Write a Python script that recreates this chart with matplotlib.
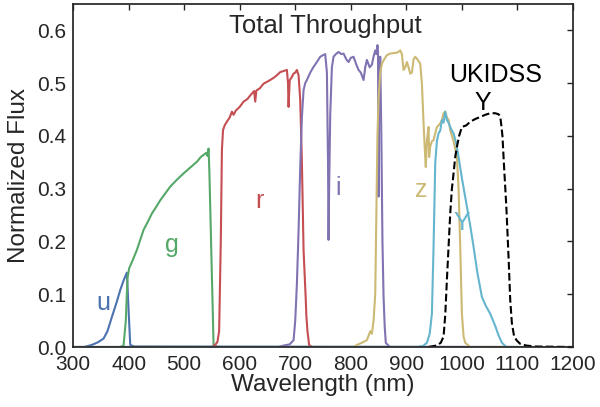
import matplotlib
matplotlib.use("Agg")
import matplotlib.pyplot as plt

plt.rcParams['font.family'] = ['Liberation Sans', 'DejaVu Sans']

# ---- data (wavelength in nm, normalized throughput) ----
u_wl = [300, 320, 334, 345, 355, 362, 370, 378, 385, 391, 397, 400, 403, 410, 1100]
u_tp = [0, 0, 0.004, 0.009, 0.016, 0.03, 0.057, 0.083, 0.108, 0.126, 0.141, 0.07, 0.004, 0.001, 0.0]

g_wl = [300, 385, 391, 395, 398, 401, 408, 415, 421, 427, 435, 442, 450, 457, 466, 475,
        487, 499, 511, 523, 530, 535, 540, 542, 544, 545.5, 553, 560, 1100]
g_tp = [0, 0, 0.003, 0.05, 0.13, 0.149, 0.166, 0.184, 0.203, 0.222, 0.238, 0.253, 0.266, 0.278,
        0.291, 0.304, 0.317, 0.329, 0.34, 0.351, 0.36, 0.364, 0.368, 0.362, 0.376, 0.33, 0.004, 0.0, 0]

r_wl = [300, 550, 556, 560, 563, 566, 568, 570, 573, 577, 582, 586, 589, 593, 600, 607, 614,
        620, 626, 628, 630, 636, 643, 650, 655, 661, 667, 673, 679, 685, 687, 688, 690, 694,
        697, 700, 703, 706, 709, 712, 715, 719, 720, 722, 725, 730, 1100]
r_tp = [0, 0, 0.004, 0.01, 0.03, 0.2, 0.373, 0.411, 0.42, 0.427, 0.435, 0.446, 0.44, 0.448,
        0.455, 0.465, 0.47, 0.478, 0.485, 0.465, 0.486, 0.49, 0.499, 0.503, 0.506, 0.51, 0.515,
        0.521, 0.523, 0.525, 0.5, 0.455, 0.505, 0.512, 0.518, 0.52, 0.525, 0.515, 0.468, 0.35,
        0.184, 0.089, 0.06, 0.03, 0.004, 0.0, 0]

i_wl = [300, 670, 680, 690, 697, 700, 703, 706, 709, 712, 715, 718, 721, 727, 733, 739, 745,
        750, 754, 757, 759, 760, 761, 763, 766, 769, 773, 778, 783, 787, 792, 796, 800, 805,
        810, 814, 818, 823, 826, 829, 834, 838, 841, 844, 846, 848, 849, 850, 851, 853, 855,
        857, 859, 861, 863, 870, 1100]
i_tp = [0, 0, 0.003, 0.005, 0.013, 0.05, 0.12, 0.22, 0.341, 0.436, 0.487, 0.5, 0.506, 0.52,
        0.531, 0.54, 0.55, 0.553, 0.555, 0.52, 0.35, 0.203, 0.3, 0.44, 0.53, 0.55, 0.555,
        0.559, 0.555, 0.556, 0.545, 0.54, 0.548, 0.55, 0.535, 0.525, 0.52, 0.506, 0.53, 0.544,
        0.53, 0.535, 0.55, 0.562, 0.555, 0.572, 0.56, 0.285, 0.5, 0.55, 0.4, 0.2, 0.095, 0.04,
        0.008, 0.0, 0]

z_wl = [300, 805, 811, 820, 829, 835, 838, 841, 844, 846, 848, 850, 853, 856, 860, 865, 871,
        878, 884, 889, 892, 895, 898, 901, 904, 907, 910, 913, 916, 920, 925, 928, 931, 933,
        935, 937, 940, 941, 943, 946, 949, 952, 955, 958, 961, 964, 967, 970, 973, 976, 979,
        985, 991, 994, 997, 1000, 1003, 1006, 1015, 1100]
z_tp = [0, 0, 0.004, 0.008, 0.013, 0.03, 0.025, 0.05, 0.1, 0.25, 0.4, 0.47, 0.52, 0.537,
        0.545, 0.553, 0.556, 0.557, 0.558, 0.562, 0.555, 0.525, 0.53, 0.54, 0.53, 0.518, 0.52,
        0.545, 0.55, 0.545, 0.537, 0.5, 0.424, 0.38, 0.341, 0.39, 0.417, 0.36, 0.38, 0.39,
        0.392, 0.405, 0.417, 0.42, 0.424, 0.43, 0.443, 0.446, 0.435, 0.43, 0.411, 0.39, 0.36,
        0.3, 0.19, 0.063, 0.02, 0.008, 0.0, 0]

y_wl = [300, 920, 930, 937, 942, 946, 949, 952, 955, 958, 961, 964, 967, 970, 973, 976, 979,
        982, 985, 990, 994, 1000, 1009, 1015, 1021, 1028, 1036, 1043, 1051, 1060, 1066, 1072,
        1080, 1200]
y_tp = [0, 0, 0.002, 0.008, 0.025, 0.063, 0.19, 0.348, 0.39, 0.405, 0.41, 0.43, 0.425, 0.446,
        0.43, 0.425, 0.417, 0.41, 0.405, 0.385, 0.36, 0.32, 0.266, 0.23, 0.19, 0.14, 0.095,
        0.078, 0.063, 0.04, 0.022, 0.008, 0.0, 0]

uk_wl = [940, 955, 962, 967, 970, 973, 976, 979, 982, 985, 988, 991, 995, 1000, 1008, 1015,
         1024, 1033, 1042, 1051, 1060, 1066, 1069, 1071, 1073, 1076, 1080, 1084, 1087, 1090,
         1094, 1099, 1105, 1115, 1130, 1200]
uk_tp = [0, 0.003, 0.008, 0.02, 0.06, 0.127, 0.19, 0.253, 0.3, 0.329, 0.36, 0.379, 0.4, 0.417,
         0.42, 0.427, 0.432, 0.436, 0.44, 0.443, 0.443, 0.441, 0.437, 0.42, 0.4, 0.34, 0.266,
         0.17, 0.089, 0.045, 0.02, 0.012, 0.006, 0.003, 0.001, 0]

band_names = ['u', 'g', 'r', 'i', 'z', 'Y']
band_colors = ['#4C72B0', '#55A868', '#C44E52', '#8172B2', '#CCB974', '#64B5CD']
label_pos = [(354, 0.070), (478, 0.180), (635, 0.263), (778, 0.288), (926, 0.284), (1000, 0.222)]

curves = [(u_wl, u_tp), (g_wl, g_tp), (r_wl, r_tp), (i_wl, i_tp), (z_wl, z_tp), (y_wl, y_tp)]

fig = plt.figure(figsize=(6.0, 4.07), dpi=100)
ax = fig.add_axes([0.1217, 0.1474, 0.8333, 0.8428])

for (wl, tp), c in zip(curves, band_colors):
    ax.plot(wl, tp, color=c, lw=1.5)
ax.plot(uk_wl, uk_tp, color='black', lw=1.5, ls='--')

for name, c, (lx, ly) in zip(band_names, band_colors, label_pos):
    ax.text(lx, ly, name, color=c, fontsize=18, ha='center', va='baseline')

ax.text(1060, 0.502, 'UKIDSS', color='black', fontsize=18, ha='center', va='baseline')
ax.text(1038, 0.449, 'Y', color='black', fontsize=18, ha='center', va='baseline')
ax.text(754, 0.595, 'Total Throughput', color='#262626', fontsize=18.5, ha='center', va='baseline')

ax.set_xlim(300, 1200)
ax.set_ylim(0, 0.65)
ax.set_xticks(range(300, 1201, 100))
ax.set_yticks([0.0, 0.1, 0.2, 0.3, 0.4, 0.5, 0.6])
ax.set_yticklabels(['0.0', '0.1', '0.2', '0.3', '0.4', '0.5', '0.6'])
ax.set_xlabel('Wavelength (nm)', fontsize=17.5, color='#262626', labelpad=0)
ax.set_ylabel('Normalized Flux', fontsize=17.5, color='#262626', labelpad=5)

for s in ax.spines.values():
    s.set_color('#262626')
    s.set_linewidth(1.25)
ax.tick_params(axis='both', which='both', direction='in', labelsize=15, colors='#262626',
               top=True, right=True, bottom=True, left=True)
ax.tick_params(axis='x', bottom=False, pad=6)
ax.tick_params(axis='y', left=False, pad=5)
ax.tick_params(length=4, width=1)

fig.savefig('out.png', dpi=100)
